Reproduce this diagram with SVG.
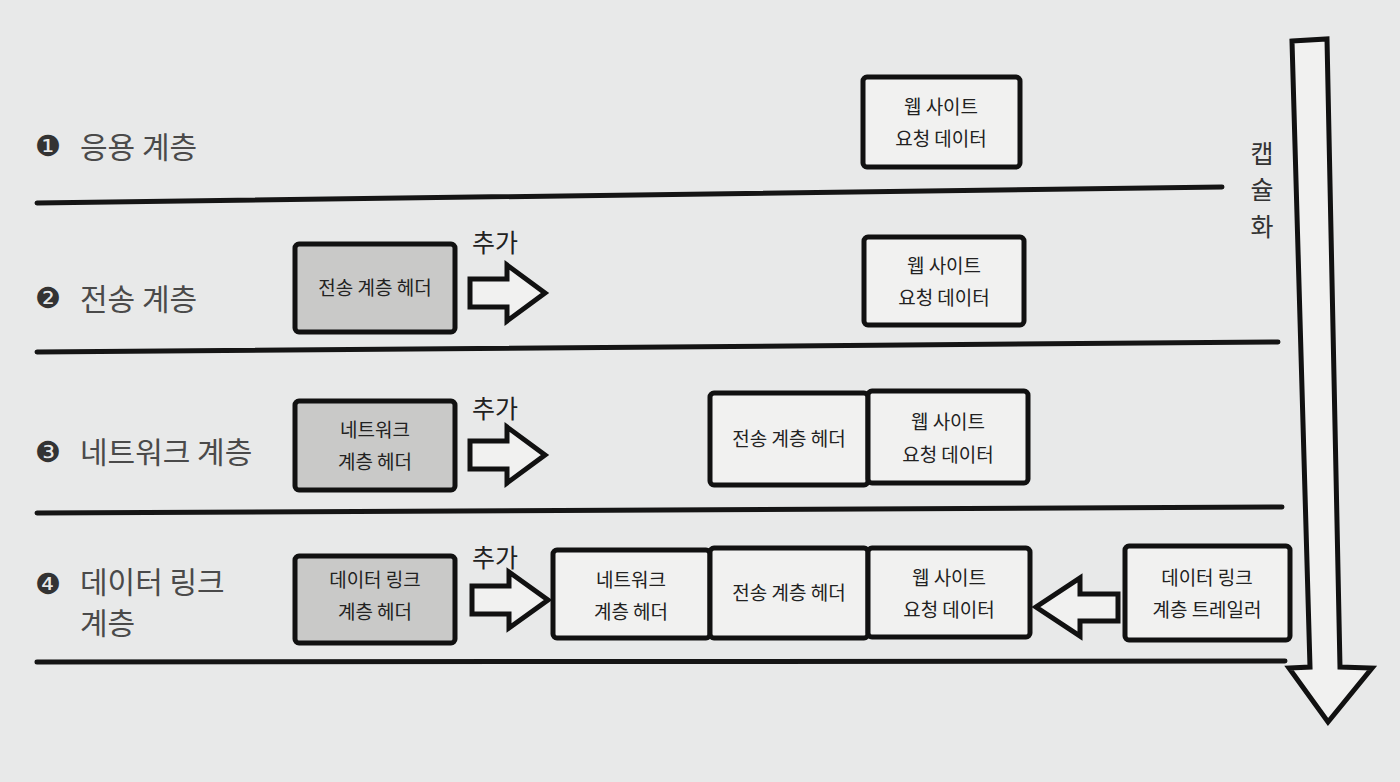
<svg xmlns="http://www.w3.org/2000/svg" width="1400" height="782" viewBox="0 0 1400 782">
<style>
.bg{fill:#e8e9e9}
.sep{stroke:#151515;stroke-width:5;fill:none;stroke-linecap:round}
.box{fill:#f1f1f0;stroke:#111;stroke-width:5}
.gbox{fill:#c9c9c8;stroke:#111;stroke-width:5}
.barrow{fill:#f1f1f0;stroke:#111;stroke-width:5;stroke-linejoin:miter}
.t{font-family:"Noto Sans CJK KR","Noto Sans",sans-serif;font-size:19px;fill:#222;text-anchor:middle}
.lab{font-family:"Noto Sans CJK KR","Noto Sans",sans-serif;font-size:30px;fill:#4a4a4a}
.num{font-family:"DejaVu Sans","Noto Sans CJK KR",sans-serif;font-size:29px;fill:#333}
.add{font-family:"Noto Sans CJK KR","Noto Sans",sans-serif;font-size:25px;fill:#222}
.enc{font-family:"Noto Sans CJK KR","Noto Sans",sans-serif;font-size:25px;fill:#333;text-anchor:middle}
</style>
<rect class="bg" x="0" y="0" width="1400" height="782"/>
<g id="connectors">
<path class="sep" d="M37 203 L1222 187"/>
<path class="sep" d="M37 352 L1278 342"/>
<path class="sep" d="M37 513 L1282 507"/>
<path class="sep" d="M37 662 L1285 661"/>
<path class="barrow" d="M470 279 L507 279 L507 265 L545 293 L507 321 L507 307 L470 307 Z"/>
<path class="barrow" d="M470 441 L507 441 L507 427 L545 455 L507 483 L507 469 L470 469 Z"/>
<path class="barrow" d="M472 586 L509 586 L509 572 L548 600 L509 628 L509 614 L472 614 Z"/>
<path class="barrow" d="M1118 594 L1080 594 L1080 578 L1036 607 L1080 636 L1080 621 L1118 621 Z"/>
<path class="barrow" d="M1292 41 L1327 39 L1340 667 L1372 668 L1328 722 L1289 668 L1310 667 Z"/>
</g>
<g id="encap-label">
<text class="enc" x="1262" y="163">캡</text>
<text class="enc" x="1262" y="199">슐</text>
<text class="enc" x="1262" y="236">화</text>
</g>
<g id="layer1">
<text class="num" x="35" y="156">❶</text>
<text class="lab" x="80" y="158">응용 계층</text>
</g>
<g id="layer2">
<text class="num" x="35" y="308">❷</text>
<text class="lab" x="80" y="310">전송 계층</text>
</g>
<g id="layer3">
<text class="num" x="35" y="462">❸</text>
<text class="lab" x="80" y="463">네트워크 계층</text>
</g>
<g id="layer4">
<text class="num" x="35" y="594">❹</text>
<text class="lab" x="80" y="593">데이터 링크</text>
<text class="lab" x="80" y="634">계층</text>
</g>
<g id="app-data-1">
<rect class="box" x="863" y="77" width="157" height="90" rx="4"/>
<text class="t" x="941" y="114">웹 사이트</text>
<text class="t" x="941" y="146">요청 데이터</text>
</g>
<g id="transport-header-2">
<rect class="gbox" x="295" y="244" width="160" height="88" rx="4"/>
<text class="t" x="375" y="295">전송 계층 헤더</text>
</g>
<text class="add" x="472" y="252">추가</text>
<g id="app-data-2">
<rect class="box" x="864" y="237" width="160" height="88" rx="4"/>
<text class="t" x="944" y="273">웹 사이트</text>
<text class="t" x="944" y="305">요청 데이터</text>
</g>
<g id="network-header-3">
<rect class="gbox" x="295" y="401" width="160" height="89" rx="4"/>
<text class="t" x="375" y="437">네트워크</text>
<text class="t" x="375" y="469">계층 헤더</text>
</g>
<text class="add" x="472" y="418">추가</text>
<g id="transport-header-3">
<rect class="box" x="710" y="393" width="158" height="92" rx="4"/>
<text class="t" x="789" y="446">전송 계층 헤더</text>
</g>
<g id="app-data-3">
<rect class="box" x="868" y="391" width="160" height="92" rx="4"/>
<text class="t" x="948" y="429">웹 사이트</text>
<text class="t" x="948" y="462">요청 데이터</text>
</g>
<g id="datalink-header-4">
<rect class="gbox" x="295" y="556" width="160" height="87" rx="4"/>
<text class="t" x="375" y="587">데이터 링크</text>
<text class="t" x="375" y="619">계층 헤더</text>
</g>
<text class="add" x="472" y="567">추가</text>
<g id="network-header-4">
<rect class="box" x="553" y="550" width="157" height="88" rx="4"/>
<text class="t" x="631" y="587">네트워크</text>
<text class="t" x="631" y="619">계층 헤더</text>
</g>
<g id="transport-header-4">
<rect class="box" x="710" y="548" width="158" height="90" rx="4"/>
<text class="t" x="789" y="600">전송 계층 헤더</text>
</g>
<g id="app-data-4">
<rect class="box" x="868" y="548" width="162" height="89" rx="4"/>
<text class="t" x="949" y="585">웹 사이트</text>
<text class="t" x="949" y="617">요청 데이터</text>
</g>
<g id="datalink-trailer-4">
<rect class="box" x="1125" y="546" width="165" height="94" rx="4"/>
<text class="t" x="1207" y="585">데이터 링크</text>
<text class="t" x="1207" y="617">계층 트레일러</text>
</g>
</svg>
